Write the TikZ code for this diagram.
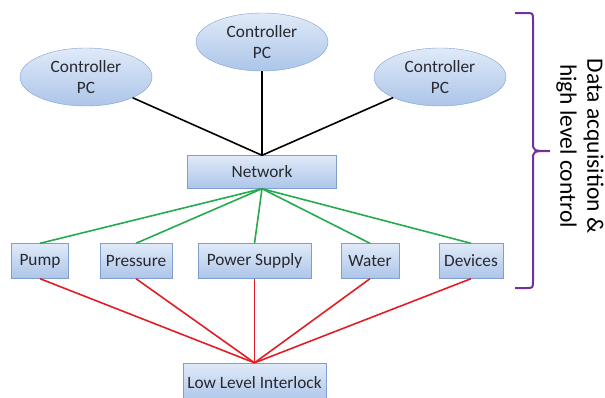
\documentclass[tikz,border=0pt]{standalone}
\usepackage{fontspec}
\setmainfont{Carlito}
\usepackage{tikz}
\usetikzlibrary{calc}
\usetikzlibrary{shapes.geometric}

\definecolor{boxtop}{RGB}{224,234,248}
\definecolor{boxbot}{RGB}{172,197,233}
\definecolor{boxline}{RGB}{128,158,205}
\definecolor{boxtext}{RGB}{40,40,48}
\definecolor{netgreen}{RGB}{38,170,78}
\definecolor{lowred}{RGB}{226,30,36}
\definecolor{bracepurple}{RGB}{112,48,160}

\tikzset{
  pc/.style={ellipse, draw=boxline, top color=boxtop, bottom color=boxbot,
    minimum width=132pt, minimum height=58pt, inner sep=0pt, align=center,
    text=boxtext, font=\fontsize{17.3}{21}\selectfont},
  unit/.style={rectangle, draw=boxline, top color=boxtop, bottom color=boxbot,
    minimum height=35pt, inner sep=0pt, text=boxtext,
    font=\fontsize{17.3}{20}\selectfont},
  wire/.style={line width=1.6pt}
}

\begin{document}
\begin{tikzpicture}[x=1pt, y=-1pt]
  \useasboundingbox (0, 0) rectangle (605, 397);

  \node[pc] (pcl) at (86, 77) {Controller\\PC};
  \node[pc] (pcm) at (262, 42) {Controller\\PC};
  \node[pc] (pcr) at (440, 77) {Controller\\PC};

  \node[unit, minimum width=149pt, minimum height=33pt] (net) at (262, 172) {Network};

  \node[unit, minimum width=57pt] (pump) at (40, 261) {Pump};
  \node[unit, minimum width=72pt] (press) at (136, 261) {Pressure};
  \node[unit, minimum width=113pt] (power) at (254.5, 261) {Power Supply};
  \node[unit, minimum width=58pt] (water) at (370, 261) {Water};
  \node[unit, minimum width=64pt] (dev) at (471, 261) {Devices};

  \node[unit, minimum width=143pt, minimum height=39pt] (lli) at (254.5, 382.5) {Low Level Interlock};

  \foreach \n in {pcl,pcm,pcr}
    \draw[wire, black] (\n) -- (net.north);
  \foreach \n in {pump,press,power,water,dev}
    \draw[wire, netgreen] (net.south) -- (\n.north);
  \foreach \n in {pump,press,power,water,dev}
    \draw[wire, lowred] (\n.south) -- (lli.north);

  % brace on the right
  \draw[bracepurple, line width=2pt]
    (515, 13) -- (526, 13) .. controls (533, 13) .. (533, 20)
    -- (533, 142) .. controls (533, 151) .. (550, 151)
    .. controls (533, 151) .. (533, 160)
    -- (533, 281) .. controls (533, 288) .. (526, 288) -- (515, 288);

  \node[rotate=-90, align=center, font=\fontsize{23.5}{27}\selectfont] (side) at (580, 146)
    {Data acquisition \&\\high level control};
\end{tikzpicture}
\end{document}
